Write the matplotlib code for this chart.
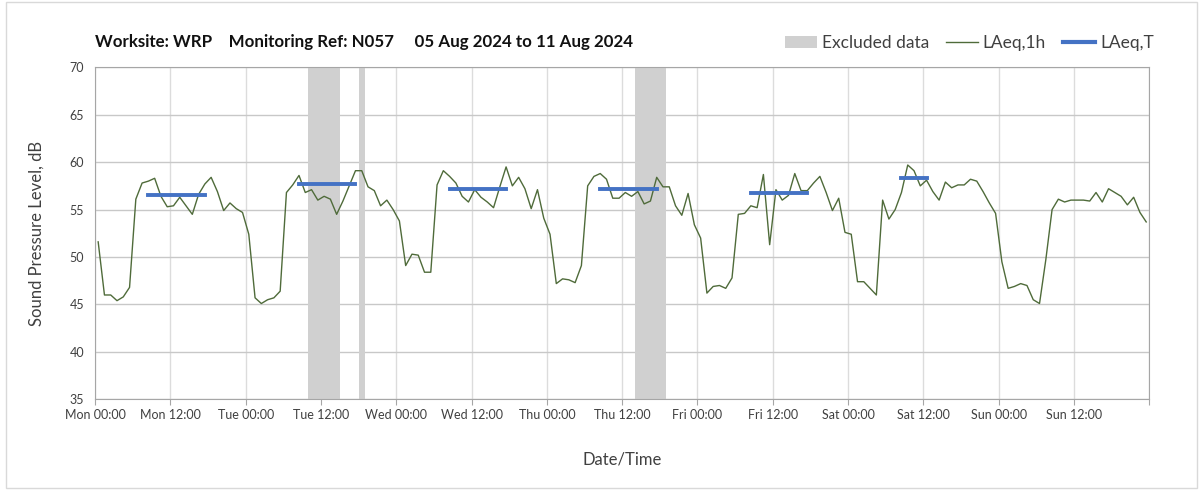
import numpy as np
import matplotlib
matplotlib.use("Agg")
import matplotlib.pyplot as plt
from matplotlib.patches import Patch, Rectangle
from matplotlib.lines import Line2D

plt.rcParams['font.family'] = ['Lato', 'DejaVu Sans']

# hourly LAeq,1h values, one list per day (hour 00 .. 23)
mon = [51.6, 46.0, 46.0, 45.4, 45.8, 46.8, 56.1, 57.8, 58.0, 58.3, 56.4, 55.3,
       55.4, 56.3, 55.4, 54.5, 56.6, 57.7, 58.4, 56.9, 54.9, 55.7, 55.1, 54.7]
tue = [52.4, 45.7, 45.1, 45.5, 45.7, 46.4, 56.8, 57.6, 58.6, 56.8, 57.1, 56.0,
       56.4, 56.1, 54.5, 55.9, 57.5, 59.1, 59.1, 57.4, 57.0, 55.4, 56.0, 55.0]
wed = [53.8, 49.1, 50.3, 50.2, 48.4, 48.4, 57.6, 59.1, 58.5, 57.8, 56.4, 55.8,
       57.1, 56.3, 55.8, 55.2, 57.4, 59.5, 57.5, 58.4, 57.2, 55.1, 57.1, 54.1]
thu = [52.4, 47.2, 47.7, 47.6, 47.3, 49.1, 57.5, 58.5, 58.8, 58.2, 56.2, 56.2,
       56.8, 56.4, 56.9, 55.6, 55.9, 58.4, 57.4, 57.4, 55.4, 54.4, 56.7, 53.4]
fri = [52.0, 46.2, 46.9, 47.0, 46.7, 47.8, 54.5, 54.6, 55.4, 55.2, 58.7, 51.3,
       57.1, 56.0, 56.5, 58.8, 57.0, 57.0, 57.8, 58.5, 56.8, 54.9, 56.2, 52.6]
sat = [52.4, 47.4, 47.4, 46.7, 46.0, 56.0, 54.0, 55.0, 56.8, 59.7, 59.1, 57.5,
       58.1, 56.9, 56.0, 57.9, 57.3, 57.6, 57.6, 58.2, 58.0, 56.9, 55.7, 54.6]
sun = [49.5, 46.7, 46.9, 47.2, 47.0, 45.5, 45.1, 49.7, 55.0, 56.1, 55.8, 56.0,
       56.0, 56.0, 55.9, 56.8, 55.8, 57.2, 56.8, 56.4, 55.5, 56.3, 54.7, 53.7]

# LAeq,T over the working period of each day (start hour, end hour, level)
period_start = [8, 32, 56, 80, 104, 128]
period_end = [18, 42, 66, 90, 114, 133]
period_level = [56.5, 57.7, 57.2, 57.2, 56.7, 58.3]

# excluded data windows, hours from Mon 00:00
excl_start = [34, 42, 86]
excl_end = [39, 43, 91]

day_names = ['Mon', 'Tue', 'Wed', 'Thu', 'Fri', 'Sat', 'Sun']

laeq_1h = np.array(mon + tue + wed + thu + fri + sat + sun)
hours = np.arange(len(laeq_1h)) + 0.5

fig = plt.figure(figsize=(12.03, 4.9), dpi=100)
fig.patches.append(Rectangle((0.005, 0.005), 0.99, 0.99, transform=fig.transFigure,
                             fill=False, edgecolor='#d9d9d9', lw=1))
ax = fig.add_axes([0.079, 0.185, 0.8764, 0.6777])

for s, e in zip(excl_start, excl_end):
    ax.axvspan(s, e, color='#d0d0d0', lw=0, zorder=1)

ax.plot(hours, laeq_1h, color='#4f6b3a', lw=1.0, zorder=3)
for s, e, v in zip(period_start, period_end, period_level):
    ax.plot([s + 0.5, e - 0.5], [v, v], color='#4472c4', lw=2.8,
            solid_capstyle='projecting', zorder=4)

ax.set_xlim(0, 168)
ax.set_ylim(35, 70)
ax.set_yticks(np.arange(35, 71, 5))
xt = np.arange(0, 169, 12)
ax.set_xticks(xt)
labels = []
for h in xt:
    if h >= 168:
        labels.append('')
    else:
        labels.append(f"{day_names[h // 24]} {h % 24:02d}:00")
ax.set_xticklabels(labels)

ax.grid(axis='y', color='#c8c8c8', lw=1)
ax.grid(axis='x', color='#dcdcdc', lw=1)
ax.set_axisbelow(True)
for sp in ax.spines.values():
    sp.set_color('#a6a6a6')
ax.tick_params(axis='x', length=4, color='#a6a6a6', labelsize=9, labelcolor='#404040', pad=3)
ax.tick_params(axis='y', length=0, labelsize=9, labelcolor='#404040', pad=8)

ax.set_ylabel('Sound Pressure Level, dB', fontsize=12, color='#404040', labelpad=18)
ax.set_xlabel('Date/Time', fontsize=12, color='#404040', labelpad=22)

fig.text(0.079, 0.915, 'Worksite: WRP    Monitoring Ref: N057     05 Aug 2024 to 11 Aug 2024',
         fontsize=12.2, fontweight='bold', color='#111111', va='center')

handles = [Patch(facecolor='#d0d0d0', edgecolor='none'),
           Line2D([], [], color='#4f6b3a', lw=1),
           Line2D([], [], color='#4472c4', lw=3)]
fig.legend(handles, ['Excluded data', 'LAeq,1h', 'LAeq,T'], ncol=3, frameon=False,
           loc='center right', bbox_to_anchor=(0.972, 0.912), fontsize=12.5,
           handlelength=1.8, handletextpad=0.3, columnspacing=1.0,
           labelcolor='#404040')

fig.savefig('out.png', dpi=100)
